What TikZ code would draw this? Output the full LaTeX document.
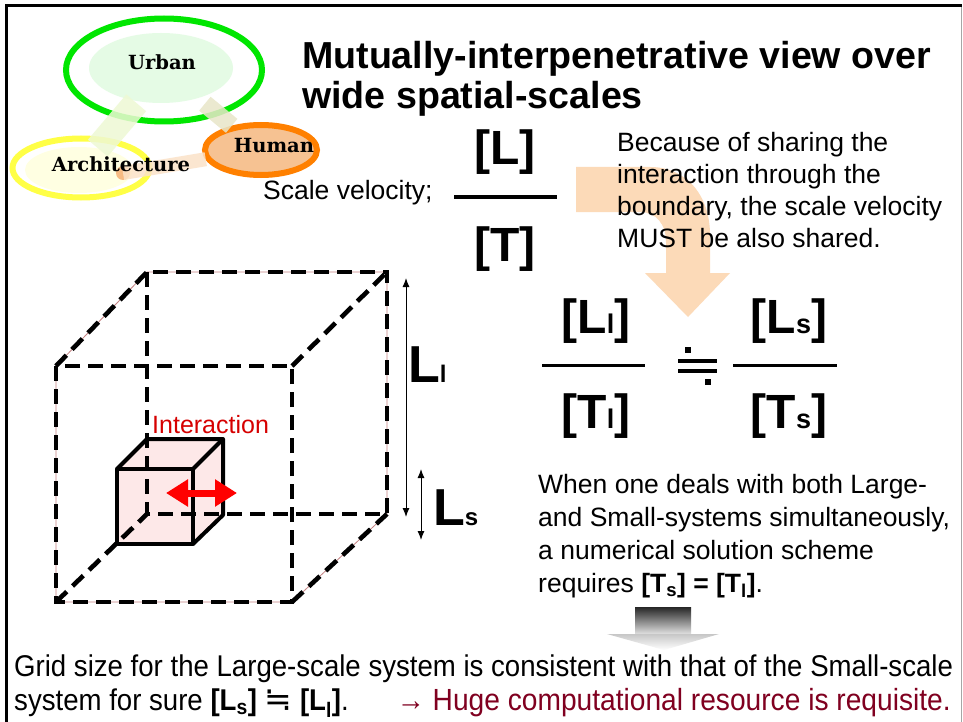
\documentclass[tikz,border=0pt]{standalone}
\usepackage{fontspec}
\setmainfont{Liberation Sans}
\newfontfamily\logofont{DejaVu Serif}
\newfontfamily\symfont{DejaVu Sans}
\newfontfamily\narrowfont[FakeStretch=0.92]{Liberation Sans}
\usetikzlibrary{arrows.meta,shapes.geometric}

\definecolor{urbangreen}{RGB}{0,230,0}
\definecolor{urbanfill}{RGB}{229,251,229}
\definecolor{archyellow}{RGB}{255,255,70}
\definecolor{archfill}{RGB}{255,255,226}
\definecolor{humanorange}{RGB}{255,128,0}
\definecolor{humanfill}{RGB}{246,194,146}
\definecolor{bandgreen}{RGB}{238,249,212}
\definecolor{bandtan}{RGB}{232,230,200}
\definecolor{bandpeach}{RGB}{251,226,200}
\definecolor{arrowpeach}{RGB}{252,218,184}
\definecolor{cubepink}{RGB}{253,232,232}
\definecolor{rimred}{RGB}{196,130,130}
\definecolor{interred}{RGB}{214,0,0}
\definecolor{hugered}{RGB}{128,0,32}

\begin{document}
\begin{tikzpicture}[x=1pt,y=-1pt,
	ring/.style={ellipse,line width=6pt,inner sep=0pt,fill=white},
	band/.style={opacity=.85,line cap=butt},
	logo/.style={font=\logofont\bfseries\fontsize{19.5}{19.5}\selectfont},
	body/.style={font=\fontsize{26.5}{32}\selectfont,align=left,inner sep=0pt},
	big/.style={font=\bfseries\fontsize{48}{48}\selectfont,inner sep=0pt,anchor=base},
	hidden/.style={line width=4.6pt,dash pattern=on 15pt off 8pt},
	solidedge/.style={line width=4pt,line join=round},
	dimarrow/.style={line width=1pt,{Latex[length=9pt,width=7pt]}-{Latex[length=9pt,width=7pt]}}]
	\fill[white] (0,0) rectangle (963,722);
	\useasboundingbox (0,0) rectangle (963,722);
	% frame
	\draw[black!35,line width=1pt] (961,6) -- (961,722);
	\draw[line width=3pt] (6,722) -- (6,6) -- (962,6);

	% logo: urban / architecture / human
	\node[ring,draw=urbangreen,minimum width=196,minimum height=103] (urban) at (164,70) {};
	\fill[urbanfill] (161,68) ellipse [x radius=72,y radius=35];
	\node[ring,draw=archyellow,minimum width=137,minimum height=59] (arch) at (81,168) {};
	\fill[archfill] (79,170) ellipse [x radius=54,y radius=23];
	\node[ring,draw=humanorange,fill=humanfill,minimum width=112,minimum height=50] (human) at (261,150) {};
	\node[circle,fill=humanfill!90!orange,inner sep=0pt,minimum size=14] (archdot) at (123,173) {};
	\draw[band,bandgreen,line width=26pt,shorten <=43pt,shorten >=26pt] (urban.center) -- (arch.center);
	\draw[band,bandtan,line width=18pt,shorten <=53pt,shorten >=38pt] (urban.center) -- (human.center);
	\draw[band,bandpeach,line width=14pt,shorten >=56pt] (archdot.center) -- (human.center);
	\node[logo] (urbanlbl) at (162,62) {Urban};
	\node[logo] (archlbl) at (121,164) {Architecture};
	\node[logo] (humanlbl) at (274,146) {Human};

	% title
	\node[anchor=north west,align=left,inner sep=0pt,font=\bfseries\fontsize{37.6}{40}\selectfont] (title) at (302,41)
		{Mutually-interpenetrative view over\\wide spatial-scales};

	% curved arrow behind the text
	\fill[arrowpeach] (576,167) -- (650,167) .. controls (686,167) and (710,195) .. (710,235) -- (710,273)
		-- (730,273) -- (688,317) -- (645,273) -- (666,273) -- (666,242)
		.. controls (666,224) and (656,212) .. (640,212) -- (576,212) -- cycle;

	% scale velocity
	\node[anchor=base west,inner sep=0pt,font=\fontsize{26.5}{32}\selectfont] (velo) at (263,200) {Scale velocity;};
	\node[big] (Lbig) at (505,165) {[L]};
	\node[big] (Tbig) at (505,261) {[T]};
	\draw[line width=3pt] (454,197) -- (557,197);
	\node[body,anchor=north west] (share) at (617,132)
		{Because of sharing the\\interaction through the\\boundary, the scale velocity\\MUST be also shared.};

	% fractions
	\node[big] (Ll) at (596,333) {[L{\fontsize{27}{27}\selectfont l}]};
	\node[big] (Tl) at (596,428) {[T{\fontsize{27}{27}\selectfont l}]};
	\draw[line width=3pt] (542,365) -- (645,365);
	\node[big] (Ls) at (789,333) {[L{\fontsize{27}{27}\selectfont s}]};
	\node[big] (Ts) at (789,428) {[T{\fontsize{27}{27}\selectfont s}]};
	\draw[line width=3pt] (733,365) -- (837,365);
	% nearly equal sign
	\draw[line width=3.5pt] (678,361) -- (717,361) (678,371) -- (717,371);
	\fill (685,347) rectangle (691,353);
	\fill (705,379) rectangle (711,385);

	% large cube, hidden edges
	\draw[rimred,line width=.8pt] (56,366) -- (147,272) -- (387,272) -- (387,514) -- (292,602) -- (56,602) -- cycle;
	\fill[cubepink] (117,469) -- (147,439) -- (223,439) -- (223,515) -- (193,544) -- (117,544) -- cycle;
	\draw[hidden] (56,366) rectangle (292,602);
	\draw[hidden] (147,272) rectangle (387,514);
	\draw[hidden] (56,366) -- (147,272);
	\draw[hidden] (292,366) -- (387,272);
	\draw[hidden] (292,602) -- (387,514);
	\draw[hidden] (56,602) -- (147,514);
	% small cube
	\draw[solidedge] (117,469) rectangle (193,544);
	\draw[solidedge] (117,469) -- (147,439) -- (223,439) -- (223,515) -- (193,544);
	\draw[solidedge] (193,469) -- (223,439);
	\node[anchor=base west,inner sep=0pt,text=interred,font=\fontsize{25}{25}\selectfont] (inter) at (152,433) {Interaction};
	\coordinate (ia) at (166,493);
	\coordinate (ib) at (237,493);
	\draw[red,line width=7pt,{Triangle[width=26pt,length=22pt]}-{Triangle[width=26pt,length=22pt]}] (ia) -- (ib);

	% length markers
	\coordinate (lltop) at (406,278);
	\coordinate (llbot) at (406,517);
	\coordinate (lstop) at (421,469);
	\coordinate (lsbot) at (421,540);
	\draw[dimarrow] (lltop) -- (llbot);
	\draw[dimarrow] (lstop) -- (lsbot);
	\node[anchor=base west,inner sep=0pt,font=\bfseries\fontsize{52}{52}\selectfont] (Lllbl) at (408,382) {L{\fontsize{24}{24}\selectfont l}};
	\node[anchor=base west,inner sep=0pt,font=\bfseries\fontsize{52}{52}\selectfont] (Lslbl) at (433,525) {L{\fontsize{24}{24}\selectfont s}};

	% conclusion
	\node[body,font=\fontsize{26.5}{33}\selectfont,anchor=north west] (when) at (538,474)
		{When one deals with both Large-\\and Small-systems simultaneously,\\a numerical solution scheme\\requires \textbf{[T\textsubscript{s}] = [T\textsubscript{l}]}.};

	% grey arrow
	\shade[top color=black!85,bottom color=black!12] (635,607) rectangle (691,634);
	\shade[top color=black!22,bottom color=white] (607,634) -- (719,634) -- (664,650) -- cycle;

	% bottom text
	\node[anchor=north west,align=left,inner sep=0pt,font=\narrowfont\fontsize{30}{34}\selectfont] (grid) at (14,655)
		{Grid size for the Large-scale system is consistent with that of the Small-scale\\
		system for sure \textbf{[L\textsubscript{s}]} {\symfont\fontsize{33}{33}\selectfont ≒} \textbf{[L\textsubscript{l}]}.\hspace{1.6em}\textcolor{hugered}{\fontsize{30.6}{34}\selectfont → Huge computational resource is requisite.}};
\end{tikzpicture}
\end{document}
